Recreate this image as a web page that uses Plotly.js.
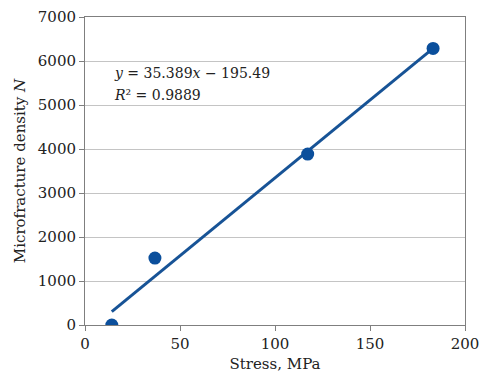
<!DOCTYPE html>
<html>
<head>
<meta charset="utf-8">
<script src="https://cdn.plot.ly/plotly-3.0.1.min.js"></script>
<style>html,body{margin:0;padding:0;background:#fff;}#chart{width:497px;height:383px;}</style>
</head>
<body>
<div id="chart"></div>
<script>
// Data
const stress = [14.1, 36.8, 117.2, 183.2];
const density = [0, 1520, 3885, 6285];
// Trendline as printed on the chart
const slope = 35.389;
const intercept = -195.49;
const rSquared = 0.9889;
const xTicks = [0, 50, 100, 150, 200];
const yTicks = [0, 1000, 2000, 3000, 4000, 5000, 6000, 7000];

const xMin = Math.min(...stress), xMax = Math.max(...stress);
const fitX = [xMin, xMax];
const fitY = fitX.map(v => slope * v + intercept);

const font = 'DejaVu Serif, serif';
const fs = 15;
const blue = '#0b4f9c';

const traces = [
  {x: fitX, y: fitY, type: 'scatter', mode: 'lines', line: {color: '#175396', width: 3}, hoverinfo: 'skip'},
  {x: stress, y: density, type: 'scatter', mode: 'markers', marker: {color: blue, size: 13}}
];

const layout = {
  width: 497, height: 383,
  margin: {l: 85, r: 32, t: 17, b: 58},
  showlegend: false,
  paper_bgcolor: '#fff', plot_bgcolor: '#fff',
  font: {family: font, size: fs, color: '#222'},
  xaxis: {
    range: [0, 200], tickvals: xTicks, ticktext: xTicks.map(String),
    showgrid: false, zeroline: false,
    showline: true, linecolor: '#7f7f7f', linewidth: 1, mirror: true,
    ticks: 'outside', ticklen: 5, tickcolor: '#7f7f7f',
    tickfont: {family: font, size: fs, color: '#222'},
    title: {text: 'Stress, MPa', font: {family: font, size: fs, color: '#222'}, standoff: 6}
  },
  yaxis: {
    range: [0, 7000], tickvals: yTicks, ticktext: yTicks.map(String),
    showgrid: true, gridcolor: '#c4c4c4', gridwidth: 1, zeroline: false,
    showline: true, linecolor: '#7f7f7f', linewidth: 1, mirror: true,
    ticks: 'outside', ticklen: 5, tickcolor: '#7f7f7f',
    tickfont: {family: font, size: fs, color: '#222'},
    title: {text: 'Microfracture density <i>N</i>', font: {family: font, size: fs, color: '#222'}, standoff: 8}
  },
  annotations: [
    {xref: 'paper', yref: 'paper', x: 0.07, y: 0.818, xanchor: 'left', yanchor: 'middle', showarrow: false, align: 'left',
     font: {family: font, size: 14, color: '#222'},
     text: '<i>y</i> = ' + slope.toFixed(3) + '<i>x</i> \u2212 ' + Math.abs(intercept).toFixed(2)},
    {xref: 'paper', yref: 'paper', x: 0.07, y: 0.747, xanchor: 'left', yanchor: 'middle', showarrow: false, align: 'left',
     font: {family: font, size: 14, color: '#222'},
     text: '<i>R</i>\u00b2 = ' + rSquared.toFixed(4)}
  ]
};

Plotly.newPlot('chart', traces, layout, {displayModeBar: false, staticPlot: true});
</script>
</body>
</html>
